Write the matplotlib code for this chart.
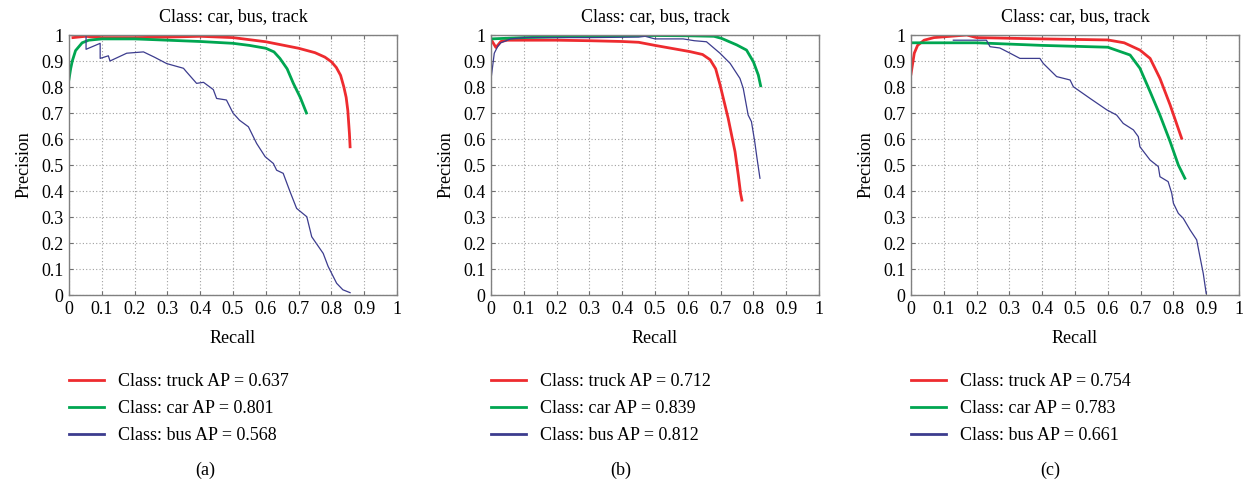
import matplotlib
matplotlib.use("Agg")
import matplotlib.pyplot as plt
from matplotlib.lines import Line2D
import numpy as np

plt.rcParams['font.family'] = ['Liberation Serif', 'DejaVu Serif']

# ---------------- data ----------------
title = "Class: car, bus, track"
tick_vals = [0, 0.1, 0.2, 0.3, 0.4, 0.5, 0.6, 0.7, 0.8, 0.9, 1]
tick_labels = ["0", "0.1", "0.2", "0.3", "0.4", "0.5", "0.6", "0.7", "0.8", "0.9", "1"]
panel_labels = ["(a)", "(b)", "(c)"]
class_names = ["truck", "car", "bus"]
ap_values = [[0.637, 0.801, 0.568], [0.712, 0.839, 0.812], [0.754, 0.783, 0.661]]

# panel (a)
a_truck_r = [0.012, 0.05, 0.1, 0.2, 0.3, 0.4, 0.5, 0.6, 0.7, 0.75, 0.78, 0.8, 0.815, 0.828, 0.838, 0.845, 0.85, 0.855, 0.857]
a_truck_p = [0.99, 0.995, 0.99, 0.99, 0.992, 0.995, 0.99, 0.974, 0.949, 0.932, 0.915, 0.897, 0.875, 0.845, 0.80, 0.76, 0.71, 0.62, 0.57]
a_car_r = [0.0, 0.005, 0.01, 0.02, 0.04, 0.06, 0.1, 0.2, 0.3, 0.4, 0.5, 0.55, 0.6, 0.625, 0.643, 0.665, 0.684, 0.705, 0.724]
a_car_p = [0.83, 0.87, 0.9, 0.94, 0.97, 0.98, 0.985, 0.985, 0.98, 0.975, 0.968, 0.96, 0.949, 0.935, 0.91, 0.87, 0.814, 0.76, 0.70]
a_bus_r = [0.052, 0.052, 0.095, 0.095, 0.12, 0.125, 0.176, 0.227, 0.26, 0.298, 0.349, 0.357, 0.389, 0.41, 0.44, 0.45,
           0.48, 0.50, 0.52, 0.547, 0.572, 0.598, 0.623, 0.633, 0.653, 0.674, 0.694, 0.725, 0.74, 0.775, 0.79,
           0.816, 0.835, 0.857]
a_bus_p = [0.995, 0.945, 0.968, 0.91, 0.92, 0.9, 0.93, 0.935, 0.915, 0.89, 0.872, 0.86, 0.814, 0.818, 0.79, 0.756,
           0.75, 0.70, 0.672, 0.647, 0.583, 0.532, 0.506, 0.48, 0.468, 0.397, 0.333, 0.301, 0.224, 0.16, 0.11,
           0.045, 0.02, 0.009]

# panel (b)
b_truck_r = [0.004, 0.015, 0.03, 0.05, 0.1, 0.2, 0.3, 0.4, 0.45, 0.5, 0.607, 0.645, 0.668, 0.685, 0.698, 0.723, 0.744, 0.754, 0.761, 0.765]
b_truck_p = [0.975, 0.952, 0.975, 0.98, 0.98, 0.98, 0.978, 0.975, 0.972, 0.96, 0.936, 0.925, 0.905, 0.87, 0.81, 0.68, 0.551, 0.46, 0.39, 0.365]
b_car_r = [0.0, 0.1, 0.2, 0.3, 0.4, 0.5, 0.6, 0.68, 0.703, 0.749, 0.779, 0.80, 0.815, 0.822]
b_car_p = [0.985, 0.99, 0.993, 0.995, 0.997, 0.998, 0.997, 0.995, 0.987, 0.962, 0.942, 0.897, 0.846, 0.805]
b_bus_r = [0.0, 0.005, 0.01, 0.02, 0.03, 0.06, 0.1, 0.2, 0.3, 0.45, 0.47, 0.5, 0.586, 0.62, 0.657, 0.698, 0.729,
           0.759, 0.769, 0.784, 0.794, 0.804, 0.811, 0.82]
b_bus_p = [0.83, 0.88, 0.93, 0.955, 0.97, 0.985, 0.99, 0.99, 0.99, 0.992, 0.995, 0.985, 0.985, 0.978, 0.974, 0.93,
           0.891, 0.833, 0.795, 0.692, 0.667, 0.59, 0.526, 0.449]

# panel (c)
c_truck_r = [0.0, 0.01, 0.02, 0.04, 0.07, 0.17, 0.2, 0.4, 0.6, 0.65, 0.698, 0.729, 0.759, 0.79, 0.825]
c_truck_p = [0.85, 0.93, 0.96, 0.98, 0.99, 1.0, 0.99, 0.985, 0.981, 0.97, 0.942, 0.91, 0.833, 0.731, 0.603]
c_car_r = [0.0, 0.2, 0.4, 0.6, 0.668, 0.698, 0.729, 0.759, 0.79, 0.815, 0.835]
c_car_p = [0.97, 0.97, 0.96, 0.953, 0.923, 0.872, 0.782, 0.692, 0.59, 0.5, 0.449]
c_bus_r = [0.129, 0.23, 0.241, 0.271, 0.302, 0.332, 0.393, 0.403, 0.444, 0.485, 0.495, 0.546, 0.597, 0.627,
           0.647, 0.678, 0.693, 0.698, 0.729, 0.754, 0.759, 0.784, 0.795, 0.80, 0.815, 0.83, 0.851, 0.871,
           0.881, 0.891, 0.90]
c_bus_p = [0.98, 0.98, 0.955, 0.95, 0.93, 0.91, 0.91, 0.891, 0.84, 0.827, 0.801, 0.756, 0.712, 0.692,
           0.66, 0.635, 0.609, 0.57, 0.519, 0.494, 0.455, 0.436, 0.391, 0.353, 0.314, 0.295, 0.25, 0.212,
           0.147, 0.083, 0.006]

panels = [
    [(a_truck_r, a_truck_p), (a_car_r, a_car_p), (a_bus_r, a_bus_p)],
    [(b_truck_r, b_truck_p), (b_car_r, b_car_p), (b_bus_r, b_bus_p)],
    [(c_truck_r, c_truck_p), (c_car_r, c_car_p), (c_bus_r, c_bus_p)],
]

# ---------------- style ----------------
colors = ["#ee2b2f", "#00a651", "#3c3c8e"]
widths = [2.0, 2.0, 0.9]
W, H = 1248, 483
ax_lefts = [69, 491, 911]
ax_w, ax_top, ax_bot = 328, 35, 295
label_x = [205, 621, 1050]
FS = 13

fig = plt.figure(figsize=(W / 100, H / 100), dpi=100)

for i in range(3):
    ax = fig.add_axes([ax_lefts[i] / W, (H - ax_bot) / H, ax_w / W, (ax_bot - ax_top) / H])
    for j, (r, p) in enumerate(panels[i]):
        ax.plot(r, p, color=colors[j], lw=widths[j], solid_joinstyle='round')
    ax.set_xlim(0, 1)
    ax.set_ylim(0, 1)
    ax.set_xticks(tick_vals)
    ax.set_xticklabels(tick_labels)
    ax.set_yticks(tick_vals)
    ax.set_yticklabels(tick_labels)
    ax.tick_params(direction='in', length=3, width=0.8, color='#707070', labelsize=FS,
                   top=True, right=True, pad=4)
    ax.grid(True, linestyle=(0, (1, 2)), color='#a0a0a0', lw=0.8)
    for s in ax.spines.values():
        s.set_color('#808080')
        s.set_linewidth(1.0)
    ax.set_title(title, fontsize=FS, pad=10)
    ax.set_xlabel("Recall", fontsize=FS, labelpad=9)
    ax.set_ylabel("Precision", fontsize=FS, labelpad=6)
    handles = [Line2D([], [], color=colors[j], lw=2.0) for j in range(3)]
    labels = [f"Class: {class_names[j]} AP = {ap_values[i][j]:.3f}" for j in range(3)]
    ax.legend(handles, labels, loc='upper left', bbox_to_anchor=(0.0, -0.30), frameon=False,
              fontsize=FS, handlelength=1.95, handletextpad=0.75, labelspacing=0.56,
              borderpad=0, borderaxespad=0)
    fig.text(label_x[i] / W, 1 - 470 / H, panel_labels[i], fontsize=FS, ha='center', va='center')

fig.savefig("out.png", dpi=100)
